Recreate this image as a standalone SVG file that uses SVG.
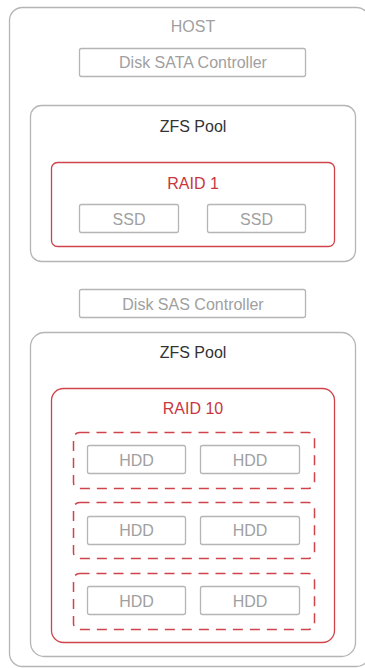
<svg xmlns="http://www.w3.org/2000/svg" width="365" height="668" viewBox="0 0 365 668">
<style>
text{font-family:"Liberation Sans",Arial,Helvetica,sans-serif;font-size:16px;text-anchor:middle}
.gray{fill:none;stroke:#b5b5b5;stroke-width:1.3}
.red{fill:none;stroke:#d0434b;stroke-width:1.3}
.dash{fill:none;stroke:#d0434b;stroke-width:1.5;stroke-dasharray:10 7}
.tg{fill:#a0a0a0}
.td{fill:#333}
.tr{fill:#c8363e}
</style>
<rect width="365" height="668" fill="#fff"/>
<g id="host">
<rect class="gray" x="9.5" y="7.5" width="360" height="659" rx="13"/>
<text class="tg" x="193" y="32">HOST</text>
</g>
<g id="sata-controller">
<rect class="gray" x="79.5" y="48.5" width="226" height="28" rx="2"/>
<text class="tg" x="193" y="67.5">Disk SATA Controller</text>
</g>
<g id="zfs-pool-1">
<rect class="gray" x="30.5" y="105.5" width="325" height="156" rx="11"/>
<text class="td" x="193" y="131.5">ZFS Pool</text>
</g>
<g id="raid1">
<rect class="red" x="51.5" y="162.5" width="283" height="84" rx="6"/>
<text class="tr" x="193" y="188.5">RAID 1</text>
</g>
<g id="ssd-1">
<rect class="gray" x="79.5" y="204.5" width="99" height="28" rx="2"/>
<text class="tg" x="129" y="224.5">SSD</text>
</g>
<g id="ssd-2">
<rect class="gray" x="207.5" y="204.5" width="98" height="28" rx="2"/>
<text class="tg" x="256.5" y="224.5">SSD</text>
</g>
<g id="sas-controller">
<rect class="gray" x="79.5" y="289.5" width="226" height="28" rx="2"/>
<text class="tg" x="193" y="309.5">Disk SAS Controller</text>
</g>
<g id="zfs-pool-2">
<rect class="gray" x="30.5" y="332.5" width="325" height="324" rx="14"/>
<text class="td" x="193" y="357.5">ZFS Pool</text>
</g>
<g id="raid10">
<rect class="red" x="51.5" y="388.5" width="283" height="254" rx="12"/>
<text class="tr" x="193" y="414">RAID 10</text>
</g>
<g id="mirror-1">
<rect class="dash" x="73.5" y="432.5" width="241" height="56" rx="6"/>
</g>
<g id="mirror-2">
<rect class="dash" x="73.5" y="502.5" width="241" height="56" rx="6"/>
</g>
<g id="mirror-3">
<rect class="dash" x="73.5" y="573.5" width="241" height="56" rx="6"/>
</g>
<g id="hdd-1"><rect class="gray" x="87.5" y="445.5" width="98" height="28" rx="2"/><text class="tg" x="136.5" y="465.5">HDD</text></g>
<g id="hdd-2"><rect class="gray" x="200.5" y="445.5" width="99" height="28" rx="2"/><text class="tg" x="250" y="465.5">HDD</text></g>
<g id="hdd-3"><rect class="gray" x="87.5" y="516.5" width="98" height="28" rx="2"/><text class="tg" x="136.5" y="536">HDD</text></g>
<g id="hdd-4"><rect class="gray" x="200.5" y="516.5" width="99" height="28" rx="2"/><text class="tg" x="250" y="536">HDD</text></g>
<g id="hdd-5"><rect class="gray" x="87.5" y="586.5" width="98" height="28" rx="2"/><text class="tg" x="136.5" y="606.5">HDD</text></g>
<g id="hdd-6"><rect class="gray" x="200.5" y="586.5" width="99" height="28" rx="2"/><text class="tg" x="250" y="606.5">HDD</text></g>
<g id="connectors"></g>
</svg>
